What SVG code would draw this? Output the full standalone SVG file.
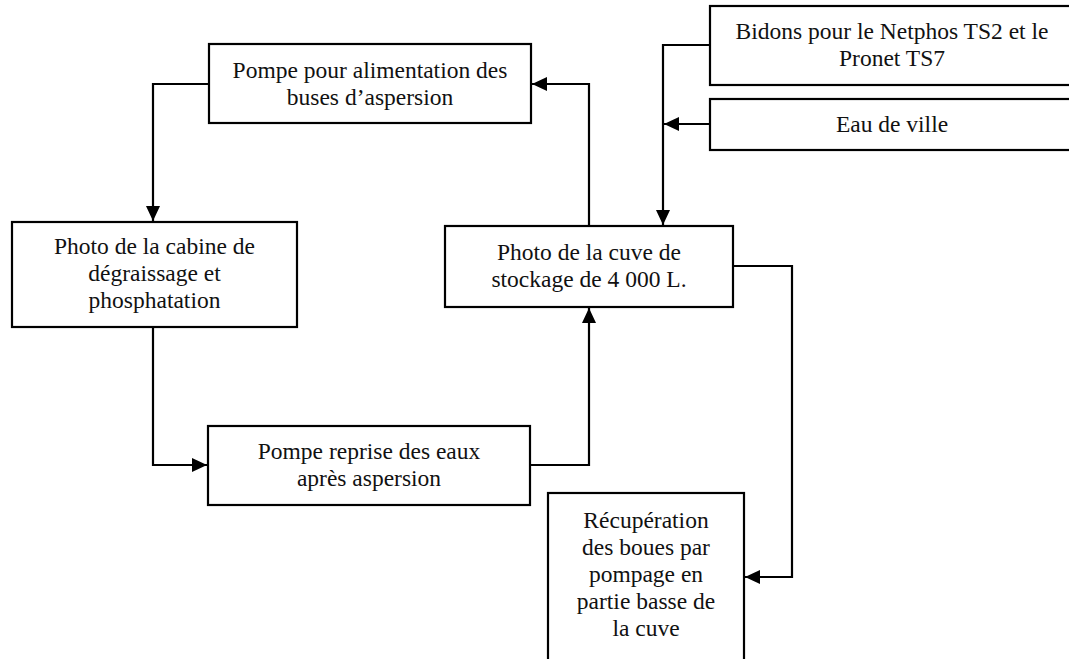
<svg xmlns="http://www.w3.org/2000/svg" width="1069" height="659" viewBox="0 0 1069 659">
  <style>
    .box { fill: #ffffff; stroke: #000000; stroke-width: 2.2; }
    .lbl { font-family: "Liberation Serif", serif; font-size: 23.5px; fill: #111111; text-anchor: middle; }
    .wire { fill: none; stroke: #000000; stroke-width: 2.2; }
  </style>
  <defs>
    <marker id="head" viewBox="0 0 15 14" refX="15" refY="7" markerWidth="15" markerHeight="14" markerUnits="userSpaceOnUse" orient="auto">
      <path d="M0,0 L15,7 L0,14 z" fill="#000000"/>
    </marker>
  </defs>
  <rect x="0" y="0" width="1069" height="659" fill="#ffffff"/>

  <!-- connectors -->
  <g id="connectors">
    <path class="wire" d="M589,226 V84 H532" marker-end="url(#head)"/>
    <path class="wire" d="M209,84 H153 V221" marker-end="url(#head)"/>
    <path class="wire" d="M153,327 V465 H207" marker-end="url(#head)"/>
    <path class="wire" d="M530,465 H589 V308" marker-end="url(#head)"/>
    <path class="wire" d="M733,266 H792 V577 H745" marker-end="url(#head)"/>
    <path class="wire" d="M710,45 H663 V225" marker-end="url(#head)"/>
    <path class="wire" d="M710,124 H664" marker-end="url(#head)"/>
  </g>

  <g id="pompe-alimentation">
    <rect class="box" x="209" y="44" width="322" height="79"/>
    <text class="lbl" x="370" y="78">Pompe pour alimentation des</text>
    <text class="lbl" x="370" y="105">buses d’aspersion</text>
  </g>

  <g id="bidons">
    <rect class="box" x="710" y="6" width="364" height="79"/>
    <text class="lbl" x="892" y="39">Bidons pour le Netphos TS2 et le</text>
    <text class="lbl" x="892" y="66">Pronet TS7</text>
  </g>

  <g id="eau-de-ville">
    <rect class="box" x="710" y="99" width="364" height="51"/>
    <text class="lbl" x="892" y="132">Eau de ville</text>
  </g>

  <g id="cabine">
    <rect class="box" x="12" y="222" width="285" height="105"/>
    <text class="lbl" x="154.5" y="254">Photo de la cabine de</text>
    <text class="lbl" x="154.5" y="281">dégraissage et</text>
    <text class="lbl" x="154.5" y="308">phosphatation</text>
  </g>

  <g id="cuve">
    <rect class="box" x="445" y="226" width="288" height="81"/>
    <text class="lbl" x="589" y="260">Photo de la cuve de</text>
    <text class="lbl" x="589" y="287">stockage de 4 000 L.</text>
  </g>

  <g id="pompe-reprise">
    <rect class="box" x="208" y="426" width="322" height="79"/>
    <text class="lbl" x="369" y="459">Pompe reprise des eaux</text>
    <text class="lbl" x="369" y="486">après aspersion</text>
  </g>

  <g id="recuperation">
    <rect class="box" x="548" y="493" width="196" height="180"/>
    <text class="lbl" x="646" y="528">Récupération</text>
    <text class="lbl" x="646" y="555">des boues par</text>
    <text class="lbl" x="646" y="582">pompage en</text>
    <text class="lbl" x="646" y="609">partie basse de</text>
    <text class="lbl" x="646" y="636">la cuve</text>
  </g>
</svg>
